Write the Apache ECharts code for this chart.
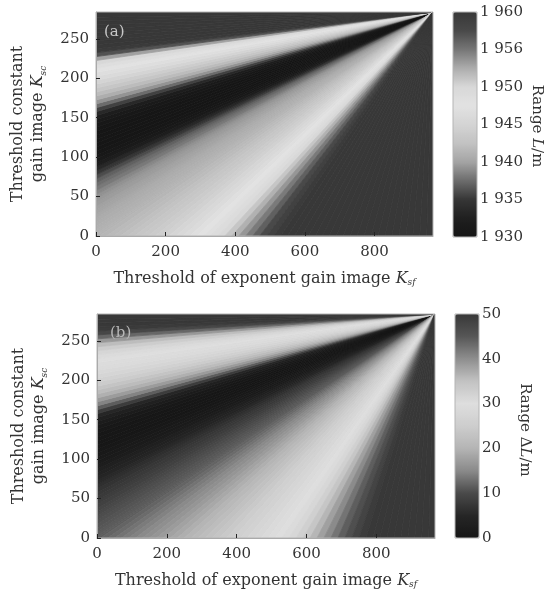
<!DOCTYPE html>
<html>
<head>
<meta charset="utf-8">
<script src="https://cdn.jsdelivr.net/npm/echarts@6/dist/echarts.min.js"></script>
<style>
html, body { margin: 0; background: #fff; }
#main { width: 546px; height: 591px; }
</style>
</head>
<body>
<div id="main"></div>
<script>
// axis extents (thresholds) - rays of both maps meet at the top right corner
var ksfMax = 968;
var kscMax = 284;

// values read along the left edge (K_sf = 0), K_sc = 0, 5, 10 ... 280
var kscStep = 5;
var leftEdgeA = [
  1941.3, 1941.2, 1941.0, 1940.8, 1940.7, 1940.4, 1940.1, 1939.9, 1939.7, 1939.5,
  1939.2, 1938.7, 1938.1, 1937.6, 1937.0, 1936.0, 1935.0, 1933.5, 1932.2, 1931.2,
  1930.5, 1930.2, 1930.0, 1930.0, 1930.0, 1930.0, 1930.1, 1930.3, 1930.5, 1931.0,
  1932.0, 1933.5, 1935.5, 1937.5, 1939.3, 1940.8, 1942.0, 1943.0, 1944.0, 1945.0,
  1946.0, 1946.8, 1947.5, 1948.5, 1950.0, 1953.0, 1957.0, 1959.5, 1960.0, 1960.0,
  1960.0, 1960.0, 1960.0, 1960.0, 1960.0, 1960.0, 1960.0
];
var leftEdgeB = [
  11.5, 11.3, 11.0, 10.8, 10.5, 10.2, 9.8, 9.3, 8.8, 8.3,
  7.8, 7.3, 6.8, 6.2, 5.5, 4.7, 3.8, 3.0, 2.3, 1.7,
  1.2, 0.8, 0.5, 0.3, 0.2, 0.2, 0.3, 0.5, 1.0, 1.8,
  3.0, 5.0, 8.0, 11.5, 14.5, 17.2, 19.5, 21.5, 23.2, 24.8,
  26.2, 27.3, 28.3, 29.0, 29.5, 30.0, 30.5, 31.5, 33.0, 35.5,
  39.0, 43.5, 47.5, 49.5, 50.0, 50.0, 50.0
];

// values read along the bottom edge (K_sc = 0), K_sf = 0, 20, 40 ... 960
var ksfStep = 20;
var bottomEdgeA = [
  1941.3, 1941.5, 1941.8, 1942.0, 1942.3, 1942.6, 1943.0, 1943.3, 1943.7, 1944.1,
  1944.6, 1945.1, 1945.7, 1946.3, 1947.0, 1947.6, 1948.2, 1949.0, 1950.0, 1951.0,
  1952.2, 1953.5, 1954.8, 1956.2, 1957.5, 1958.7, 1959.5, 1960.0, 1960.0, 1960.0,
  1960.0, 1960.0, 1960.0, 1960.0, 1960.0, 1960.0, 1960.0, 1960.0, 1960.0, 1960.0,
  1960.0, 1960.0, 1960.0, 1960.0, 1960.0, 1960.0, 1960.0, 1960.0, 1960.0
];
var bottomEdgeB = [
  11.5, 12.0, 12.6, 13.2, 13.8, 14.4, 15.0, 15.6, 16.3, 17.0,
  17.8, 18.6, 19.4, 20.2, 21.0, 21.8, 22.6, 23.4, 24.2, 25.0,
  25.8, 26.6, 27.3, 28.0, 28.7, 29.3, 29.9, 30.5, 31.3, 32.5,
  34.2, 36.2, 38.3, 40.3, 42.3, 44.3, 46.2, 48.0, 49.3, 50.0,
  50.0, 50.0, 50.0, 50.0, 50.0, 50.0, 50.0, 50.0, 50.0
];

// tick labels
var xTicks = [0, 200, 400, 600, 800];
var yTicks = [0, 50, 100, 150, 200, 250];
var barLabelsA = ['1 930', '1 935', '1 940', '1 945', '1 950', '1 956', '1 960'];
var barTicksB = [0, 10, 20, 30, 40, 50];

// grey colour maps (dark at both ends)
var greysA = ['#161616', '#1f1f1f', '#363636', '#6c6c6c', '#a4a4a4', '#c2c2c2', '#d4d4d4',
              '#e2e2e2', '#d8d8d8', '#acacac', '#767676', '#494949', '#383838'];
var greysB = ['#161616', '#262626', '#4a4a4a', '#8a8a8a', '#b4b4b4', '#cdcdcd',
              '#dedede', '#c2c2c2', '#8e8e8e', '#565656', '#383838'];

// one wedge per edge sample: [from, to, value, side], side 0 = left edge, 1 = bottom edge
function buildWedges(leftEdge, bottomEdge) {
  var out = [];
  leftEdge.forEach(function (v, k) {
    out.push([Math.max(0, (k - 0.5) * kscStep), Math.min(kscMax, (k + 0.5) * kscStep), v, 0]);
  });
  out[out.length - 1][1] = kscMax;
  bottomEdge.forEach(function (v, k) {
    out.push([Math.max(0, (k - 0.5) * ksfStep), Math.min(ksfMax, (k + 0.5) * ksfStep), v, 1]);
  });
  out[out.length - 1][1] = ksfMax;
  return out;
}

// every wedge is the fan of rays from the corner to its piece of edge
function renderWedge(params, api) {
  var lo = api.value(0), hi = api.value(1), side = api.value(3);
  var apex = api.coord([ksfMax, kscMax]);
  var p1 = side === 0 ? api.coord([0, lo]) : api.coord([lo, 0]);
  var p2 = side === 0 ? api.coord([0, hi]) : api.coord([hi, 0]);
  var c = api.visual('color');
  return {
    type: 'polygon',
    shape: { points: [apex, p1, p2] },
    style: { fill: c, stroke: c, lineWidth: 0.8, lineJoin: 'round' }
  };
}

var serif = 'DejaVu Serif';
var ink = '#333';
var nameRich = {
  t: { fontFamily: serif, fontSize: 16, color: ink },
  i: { fontFamily: serif, fontSize: 16, color: ink, fontStyle: 'italic' },
  s: { fontFamily: serif, fontSize: 9, color: ink, fontStyle: 'italic', verticalAlign: 'bottom', lineHeight: 11 }
};

function valueX(gridIndex) {
  return {
    type: 'value', gridIndex: gridIndex, min: 0, max: ksfMax, position: 'bottom', z: 10,
    name: '{t|Threshold of exponent gain image }{i|K}{s|sf}',
    nameLocation: 'middle', nameGap: 35,
    nameTextStyle: { rich: nameRich },
    axisLine: { show: true, lineStyle: { color: '#aaa', width: 1 } },
    axisTick: { show: true, inside: true, length: 4, customValues: xTicks, lineStyle: { color: '#222' } },
    axisLabel: { customValues: xTicks, margin: 9, fontFamily: serif, fontSize: 15, color: ink },
    splitLine: { show: false }
  };
}
function valueY(gridIndex) {
  return {
    type: 'value', gridIndex: gridIndex, min: 0, max: kscMax, position: 'left', z: 10,
    name: '{t|Threshold constant}\n{t|gain image }{i|K}{s|sc}',
    nameLocation: 'middle', nameGap: 48, nameRotate: 90,
    nameTextStyle: { rich: nameRich, lineHeight: 20 },
    axisLine: { show: true, lineStyle: { color: '#aaa', width: 1 } },
    axisTick: { show: true, inside: true, length: 4, customValues: yTicks, lineStyle: { color: '#222' } },
    axisLabel: { customValues: yTicks, margin: 7, fontFamily: serif, fontSize: 15, color: ink },
    splitLine: { show: false }
  };
}
function frame(left, top, width, height) {
  return {
    left: left, top: top, width: width, height: height, z: 5,
    show: true, borderColor: '#b4b4b4', borderWidth: 1, backgroundColor: 'transparent'
  };
}

var myChart = echarts.init(document.getElementById('main'));
var option = {
  animation: false,
  backgroundColor: '#fff',
  grid: [
    frame(95, 12, 338, 224),
    frame(97, 314, 338, 224),
    frame(453, 12, 24, 225),
    frame(455, 314, 24, 224)
  ],
  xAxis: [
    valueX(0),
    valueX(1),
    { type: 'value', gridIndex: 2, show: false },
    { type: 'value', gridIndex: 3, show: false }
  ],
  yAxis: [
    valueY(0),
    valueY(1),
    {
      type: 'category', gridIndex: 2, position: 'right', boundaryGap: false, data: barLabelsA,
      axisLine: { show: false }, axisTick: { show: false },
      axisLabel: { margin: 3, fontFamily: serif, fontSize: 15, color: ink }
    },
    {
      type: 'value', gridIndex: 3, position: 'right', min: 0, max: 50,
      axisLine: { show: false }, axisTick: { show: false }, splitLine: { show: false },
      axisLabel: { customValues: barTicksB, margin: 3, fontFamily: serif, fontSize: 15, color: ink }
    }
  ],
  visualMap: [
    {
      type: 'continuous', seriesIndex: 0, dimension: 2, min: 1930, max: 1960, calculable: false,
      left: 453, top: 12, itemWidth: 24, itemHeight: 225, padding: 0,
      inRange: { color: greysA }, textStyle: { color: 'transparent' }
    },
    {
      type: 'continuous', seriesIndex: 1, dimension: 2, min: 0, max: 50, calculable: false,
      left: 455, top: 314, itemWidth: 24, itemHeight: 224, padding: 0,
      inRange: { color: greysB }, textStyle: { color: 'transparent' }
    }
  ],
  series: [
    {
      type: 'custom', xAxisIndex: 0, yAxisIndex: 0, data: buildWedges(leftEdgeA, bottomEdgeA),
      renderItem: renderWedge, clip: true, silent: true
    },
    {
      type: 'custom', xAxisIndex: 1, yAxisIndex: 1, data: buildWedges(leftEdgeB, bottomEdgeB),
      renderItem: renderWedge, clip: true, silent: true
    }
  ],
  graphic: [
    { type: 'text', x: 104, y: 25, z: 20, style: { text: '(a)', fontFamily: serif, fontSize: 15, fill: '#c8c8c8' } },
    { type: 'text', x: 110, y: 326, z: 20, style: { text: '(b)', fontFamily: serif, fontSize: 15, fill: '#b8b8b8' } },
    {
      type: 'text', x: 537, y: 126, rotation: -Math.PI / 2,
      style: {
        text: '{t|Range }{i|L}{t|/m}', align: 'center', verticalAlign: 'middle',
        rich: { t: { fontFamily: serif, fontSize: 15, fill: ink }, i: { fontFamily: serif, fontSize: 15, fill: ink, fontStyle: 'italic' } }
      }
    },
    {
      type: 'text', x: 525, y: 430, rotation: -Math.PI / 2,
      style: {
        text: '{t|Range Δ}{i|L}{t|/m}', align: 'center', verticalAlign: 'middle',
        rich: { t: { fontFamily: serif, fontSize: 15, fill: ink }, i: { fontFamily: serif, fontSize: 15, fill: ink, fontStyle: 'italic' } }
      }
    }
  ]
};
myChart.setOption(option);
</script>
</body>
</html>
